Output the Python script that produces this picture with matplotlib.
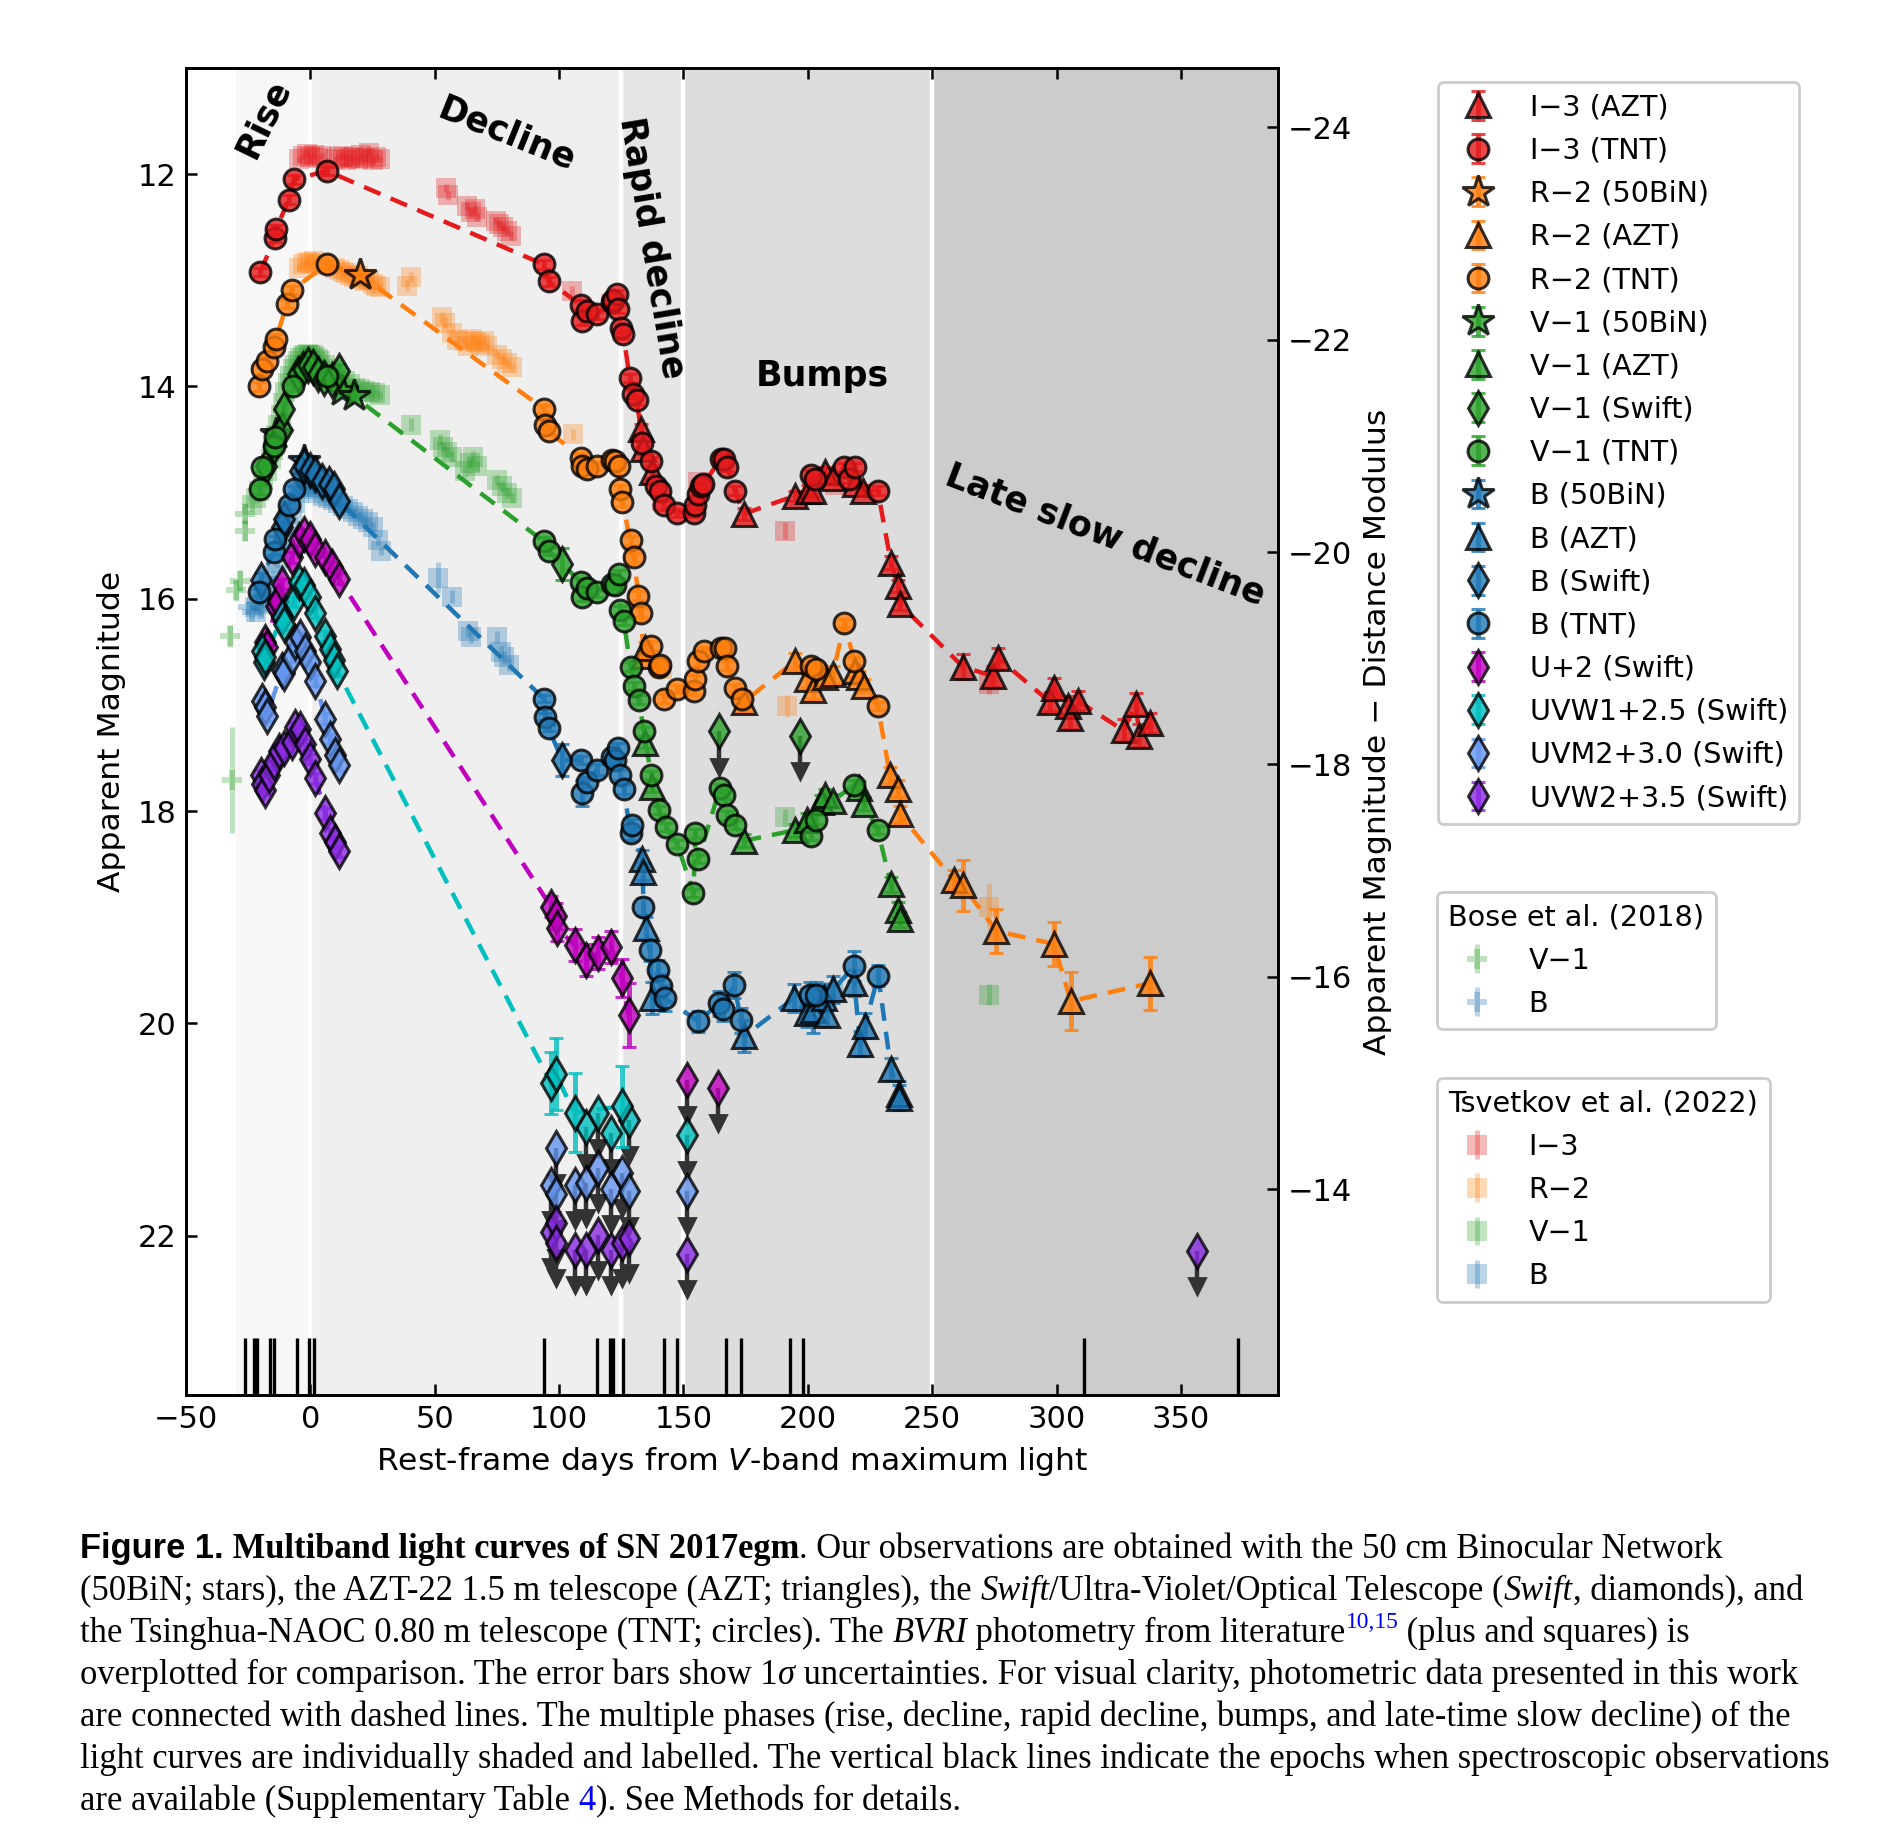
import matplotlib
matplotlib.use('Agg')
import matplotlib.pyplot as plt
from matplotlib.font_manager import FontProperties

# ------------------------------------------------------------------ data
# plotted magnitudes (offsets already applied), rest-frame days
I_TNT_day = [-20.1, -14.3, -13.8, -8.7, -6.7, 6.7, 93.8, 95.8, 108.6, 109.2, 111.2, 115.2, 121.3, 121.7,
             123.2, 123.7, 124.9, 125.8, 128.4, 129.8, 131.2, 133.3, 136.8, 138.9, 140.6, 142.3, 147.2,
             154.2, 154.8, 156.0, 157.2, 158.0, 165.0, 166.4, 167.6, 170.6, 201.3, 203.0, 214.7, 216.4,
             219.0, 228.1]
I_TNT_mag = [12.92, 12.60, 12.52, 12.24, 12.05, 11.97, 12.85, 13.01, 13.23, 13.38, 13.29, 13.32, 13.20, 13.19,
             13.13, 13.27, 13.45, 13.51, 13.92, 14.07, 14.13, 14.53, 14.70, 14.94, 14.98, 15.12, 15.19,
             15.19, 15.12, 15.01, 14.94, 14.92, 14.68, 14.68, 14.76, 14.98, 14.83, 14.87, 14.76, 14.87,
             14.76, 14.98]
I_AZT_day = [132.8, 133.6, 137.5, 174.3, 194.7, 200.0, 202.0, 206.9, 210.0, 219.0, 222.2, 233.4, 236.2, 237.0,
             262.3, 274.6, 276.6, 297.2, 298.8, 304.5, 305.3, 308.4, 326.9, 331.9, 333.2, 337.6]
I_AZT_mag = [14.40, 14.59, 14.81, 15.20, 15.03, 14.98, 14.98, 14.81, 14.86, 14.92, 14.98, 15.66, 15.88, 16.05,
             16.64, 16.73, 16.56, 16.97, 16.84, 17.01, 17.12, 16.96, 17.24, 16.99, 17.29, 17.17]
I_AZT_err = [0.05, 0.05, 0.05, 0.06, 0.05, 0.05, 0.05, 0.05, 0.05, 0.05, 0.05, 0.06, 0.06, 0.06,
             0.12, 0.10, 0.10, 0.09, 0.09, 0.09, 0.11, 0.09, 0.11, 0.10, 0.11, 0.09]

R_TNT_day = [-20.5, -19.4, -17.4, -14.7, -13.8, -9.4, -7.4, 6.7, 93.8, 94.5, 95.8, 108.6, 109.2, 111.2, 115.2,
             121.3, 122.6, 124.0, 124.6, 125.3, 128.7, 130.0, 131.9, 132.9, 136.8, 140.0, 140.6, 142.3,
             147.2, 154.2, 154.8, 156.0, 158.1, 165.0, 166.7, 167.6, 170.6, 173.4, 201.3, 203.2, 214.7,
             218.7, 228.1]
R_TNT_mag = [14.00, 13.84, 13.76, 13.63, 13.55, 13.22, 13.09, 12.85, 14.21, 14.36, 14.42, 14.67, 14.75, 14.78,
             14.75, 14.69, 14.70, 14.75, 14.97, 15.09, 15.45, 15.61, 15.97, 16.13, 16.44, 16.64, 16.62,
             16.94, 16.85, 16.87, 16.76, 16.59, 16.49, 16.46, 16.46, 16.63, 16.84, 16.94, 16.63, 16.66,
             16.23, 16.59, 17.01]
R_AZT_day = [134.0, 134.5, 174.3, 194.7, 199.6, 202.0, 206.9, 210.0, 219.1, 220.6, 222.6, 233.0, 236.2, 237.0,
             258.7, 262.3, 275.8, 298.8, 305.7, 337.7]
R_AZT_mag = [16.54, 16.46, 16.97, 16.59, 16.76, 16.86, 16.74, 16.71, 16.68, 16.74, 16.82, 17.66, 17.79, 18.03,
             18.65, 18.70, 19.13, 19.25, 19.79, 19.62]
R_AZT_err = [0.05, 0.05, 0.10, 0.08, 0.08, 0.08, 0.08, 0.08, 0.06, 0.06, 0.06, 0.08, 0.08, 0.08,
             0.10, 0.24, 0.21, 0.21, 0.27, 0.25]
R_50_day = [20.1]
R_50_mag = [12.95]

V_TNT_day = [-20.1, -19.4, -14.8, -14.2, -7.1, 6.7, 93.8, 95.8, 108.6, 109.2, 111.2, 115.2, 121.3, 122.6,
             124.0, 124.6, 126.0, 128.7, 130.0, 132.0, 134.1, 137.1, 140.2, 142.8, 147.5, 154.0, 154.8,
             156.0, 164.7, 166.4, 167.6, 170.6, 201.3, 203.2, 218.7, 228.1]
V_TNT_mag = [14.97, 14.76, 14.56, 14.48, 14.00, 13.90, 15.46, 15.55, 15.84, 15.98, 15.90, 15.94, 15.86, 15.87,
             15.77, 16.11, 16.21, 16.64, 16.82, 16.95, 17.25, 17.66, 17.99, 18.15, 18.31, 18.77, 18.21,
             18.45, 17.78, 17.85, 18.04, 18.13, 18.23, 18.08, 17.75, 18.18]
V_AZT_day = [134.7, 137.4, 174.3, 194.7, 199.6, 205.1, 206.9, 210.3, 220.5, 222.6, 233.4, 236.2, 237.0]
V_AZT_mag = [17.36, 17.77, 18.28, 18.18, 18.08, 17.91, 17.85, 17.90, 17.78, 17.93, 18.69, 18.93, 19.02]
V_AZT_err = [0.05, 0.05, 0.06, 0.06, 0.06, 0.06, 0.06, 0.06, 0.06, 0.06, 0.07, 0.07, 0.07]
V_SW_day = [-18.0, -14.5, -11.5, -10.5, -5.0, -3.0, -1.0, 1.0, 3.0, 5.5, 8.5, 11.4, 101.2]
V_SW_mag = [14.75, 14.56, 14.41, 14.21, 13.88, 13.84, 13.80, 13.82, 13.88, 13.92, 13.94, 13.85, 15.67]
V_SW_err = [0.06, 0.06, 0.06, 0.06, 0.05, 0.05, 0.05, 0.05, 0.05, 0.05, 0.05, 0.06, 0.15]
V_SW_lim_day = [164.2, 197.0]
V_SW_lim_mag = [17.25, 17.29]
V_50_day = [-14.0, 12.7, 17.4]
V_50_mag = [14.45, 14.04, 14.09]

B_TNT_day = [-20.5, -14.8, -14.2, -8.7, -6.7, 93.8, 94.5, 95.8, 108.6, 109.2, 111.2, 115.2, 121.3, 122.6,
             123.7, 124.6, 126.0, 128.7, 129.4, 133.9, 136.4, 139.8, 140.8, 142.4, 155.9, 164.4, 165.8,
             170.2, 173.3, 201.0, 203.1, 218.7, 228.3]
B_TNT_mag = [15.94, 15.56, 15.44, 15.12, 14.97, 16.94, 17.11, 17.22, 17.52, 17.83, 17.73, 17.61, 17.49, 17.52,
             17.41, 17.66, 17.79, 18.21, 18.13, 18.90, 19.31, 19.50, 19.65, 19.76, 19.98, 19.81, 19.86,
             19.64, 19.97, 19.73, 19.73, 19.46, 19.55]
B_TNT_err = [0.03, 0.03, 0.03, 0.03, 0.03, 0.03, 0.03, 0.03, 0.04, 0.12, 0.05, 0.05, 0.05, 0.05,
             0.05, 0.05, 0.05, 0.06, 0.06, 0.08, 0.10, 0.10, 0.12, 0.12, 0.10, 0.12, 0.12,
             0.12, 0.12, 0.12, 0.12, 0.14, 0.10]
B_AZT_day = [133.3, 133.6, 134.9, 137.5, 174.4, 194.6, 199.5, 202.0, 206.4, 207.6, 210.3, 218.7, 221.0, 222.9,
             233.4, 236.6, 236.8]
B_AZT_mag = [18.45, 18.57, 19.10, 19.76, 20.12, 19.76, 19.90, 19.87, 19.76, 19.92, 19.68, 19.62, 20.19, 20.02,
             20.43, 20.66, 20.70]
B_AZT_err = [0.08, 0.08, 0.10, 0.15, 0.15, 0.13, 0.13, 0.22, 0.13, 0.10, 0.13, 0.12, 0.12, 0.12,
             0.10, 0.12, 0.12]
B_SW_day = [-20.0, -11.5, -10.5, -4.0, -2.7, 0.0, 2.0, 4.7, 7.4, 9.4, 11.4, 101.2]
B_SW_mag = [15.82, 15.32, 15.25, 14.80, 14.75, 14.79, 14.82, 14.89, 14.92, 14.97, 15.08, 17.52]
B_SW_err = [0.06, 0.05, 0.05, 0.05, 0.05, 0.05, 0.05, 0.05, 0.05, 0.05, 0.05, 0.15]
B_50_day = [-2.7]
B_50_mag = [14.70]

U_day = [-18.1, -17.5, -13.9, -13.2, -11.4, -7.4, -4.7, -2.7, 0.0, 2.0, 6.0, 8.7, 11.4,
         96.7, 98.6, 99.0, 106.2, 111.0, 115.6, 120.9, 125.2, 127.9]
U_mag = [16.41, 16.45, 16.07, 16.02, 15.86, 15.61, 15.45, 15.39, 15.44, 15.53, 15.61, 15.70, 15.81,
         18.90, 18.99, 19.10, 19.26, 19.40, 19.34, 19.28, 19.57, 19.92]
U_err = [0.05, 0.05, 0.05, 0.05, 0.05, 0.05, 0.05, 0.05, 0.05, 0.05, 0.05, 0.05, 0.05,
         0.10, 0.12, 0.12, 0.15, 0.15, 0.15, 0.15, 0.18, 0.30]
U_lim_day = [151.6, 163.9]
U_lim_mag = [20.53, 20.61]

W1_day = [-19.4, -18.5, -18.1, -11.4, -10.5, -6.7, -4.7, -2.7, 0.0, 2.0, 6.0, 8.0, 9.5, 10.8,
          96.7, 98.6, 106.2, 125.2]
W1_mag = [16.49, 16.60, 16.55, 16.17, 16.24, 16.03, 15.84, 15.87, 15.98, 16.13, 16.35, 16.47, 16.58, 16.68,
          20.56, 20.48, 20.84, 20.78]
W1_err = [0.05, 0.05, 0.05, 0.05, 0.05, 0.05, 0.05, 0.05, 0.05, 0.05, 0.05, 0.05, 0.05, 0.05,
          0.29, 0.34, 0.37, 0.38]
W1_lim_day = [111.0, 115.6, 120.9, 127.9, 151.6]
W1_lim_mag = [20.98, 20.84, 21.03, 20.91, 21.05]

M2_day = [-19.4, -18.1, -17.4, -11.4, -10.5, -7.4, -6.1, -4.0, -2.0, 0.0, 2.0, 6.0, 8.0, 10.0, 11.4]
M2_mag = [16.96, 17.02, 17.10, 16.67, 16.70, 16.55, 16.41, 16.36, 16.49, 16.60, 16.77, 17.13, 17.32, 17.47, 17.57]
M2_lim_day = [96.7, 98.6, 98.6, 106.2, 111.0, 115.6, 120.9, 125.2, 127.9, 151.6]
M2_lim_mag = [21.52, 21.17, 21.61, 21.52, 21.50, 21.36, 21.56, 21.41, 21.58, 21.58]

W2_day = [-20.0, -19.4, -18.1, -16.7, -14.8, -12.8, -10.8, -7.4, -6.1, -4.0, -2.0, 0.0, 2.0, 6.0, 8.0, 10.0, 11.4]
W2_mag = [17.66, 17.74, 17.80, 17.66, 17.54, 17.43, 17.41, 17.35, 17.21, 17.23, 17.37, 17.51, 17.69, 18.02,
          18.21, 18.29, 18.38]
W2_lim_day = [96.7, 98.6, 98.6, 106.2, 111.0, 115.6, 120.9, 125.2, 127.9, 151.6, 356.5]
W2_lim_mag = [21.96, 21.88, 22.07, 22.13, 22.13, 21.99, 22.13, 22.07, 22.02, 22.17, 22.14]

# literature: Bose et al. (2018)
BoseV_day = [-32.2, -31.5, -30.1, -28.1, -26.1, -26.1]
BoseV_mag = [16.35, 17.71, 15.92, 15.83, 15.36, 15.20]
BoseV_err = [0.10, 0.50, 0.10, 0.10, 0.10, 0.10]
BoseB_day = [-25.0, -23.5, -21.5, -20.0]
BoseB_mag = [16.08, 16.12, 16.02, 16.10]
BoseB_err = [0.06, 0.06, 0.06, 0.06]

# literature: Tsvetkov et al. (2022)
TsvI_day = [-4.5, -3.0, -1.5, 0.0, 1.5, 3.0, 4.5, 10.0, 11.5, 13.0, 14.5, 16.0, 17.5, 19.0, 20.5, 22.0,
            23.5, 25.0, 26.5, 28.0, 54.5, 55.5, 63.0, 64.5, 66.0, 67.0, 74.5, 76.0, 77.5, 79.0, 80.5,
            105.0, 121.0, 141.5, 156.0, 191.0, 211.0, 273.0]
TsvI_mag = [11.86, 11.83, 11.81, 11.84, 11.82, 11.85, 11.83, 11.86, 11.84, 11.83, 11.87, 11.85, 11.84, 11.86,
            11.82, 11.85, 11.80, 11.87, 11.84, 11.86, 12.13, 12.20, 12.30, 12.36, 12.33, 12.40, 12.44,
            12.47, 12.50, 12.54, 12.58, 13.10, 13.22, 15.08, 14.90, 15.36, 14.93, 16.80]
TsvI_err = [0.03, 0.03, 0.03, 0.03, 0.03, 0.03, 0.03, 0.03, 0.03, 0.03, 0.06, 0.03, 0.03, 0.03, 0.03, 0.03,
            0.05, 0.03, 0.03, 0.03, 0.04, 0.04, 0.04, 0.04, 0.04, 0.04, 0.04, 0.04, 0.04, 0.04, 0.04,
            0.05, 0.05, 0.05, 0.05, 0.08, 0.05, 0.10]
TsvR_day = [-4.5, -3.0, -1.5, 0.0, 1.5, 3.0, 4.5, 10.0, 11.5, 13.0, 14.5, 16.0, 17.5, 19.0, 20.5, 22.0,
            23.5, 25.0, 26.5, 28.0, 39.0, 40.5, 53.0, 54.0, 57.0, 59.0, 62.0, 63.5, 65.0, 66.5, 68.0,
            70.0, 71.0, 75.0, 77.0, 79.0, 81.0, 105.5, 141.5, 191.5, 273.0]
TsvR_mag = [12.88, 12.85, 12.83, 12.84, 12.82, 12.85, 12.86, 12.88, 12.90, 12.92, 12.93, 12.95, 12.97, 12.96,
            12.99, 13.01, 13.00, 13.03, 13.05, 13.06, 13.05, 12.97, 13.35, 13.40, 13.50, 13.56, 13.57,
            13.62, 13.55, 13.58, 13.60, 13.57, 13.62, 13.70, 13.74, 13.78, 13.82, 14.45, 16.66, 17.01, 18.90]
TsvR_err = [0.03, 0.03, 0.03, 0.03, 0.03, 0.03, 0.03, 0.03, 0.03, 0.03, 0.03, 0.03, 0.03, 0.03, 0.03, 0.03,
            0.03, 0.03, 0.03, 0.03, 0.05, 0.05, 0.05, 0.05, 0.04, 0.04, 0.04, 0.04, 0.04, 0.04, 0.04,
            0.04, 0.04, 0.04, 0.04, 0.04, 0.04, 0.05, 0.05, 0.10, 0.22]
TsvV_day = [-23.5, -22.0, -20.5, -19.0, -17.5, -16.0, -15.0, -14.0, -13.0, -12.0, -11.0, -10.0, -9.0, -8.0,
            -7.0, -6.0, -5.0, -4.0, -3.0, -2.0, -1.0, 0.0, 1.0, 2.0, 3.0, 4.0, 6.0, 8.0, 10.0, 12.0, 14.0,
            16.0, 18.0, 20.0, 22.0, 24.0, 26.0, 28.0, 40.5, 52.0, 53.5, 55.0, 57.0, 62.0, 64.0, 65.5, 67.0,
            75.0, 77.0, 79.0, 81.0, 191.0, 273.0]
TsvV_mag = [15.12, 15.05, 14.98, 14.88, 14.80, 14.68, 14.60, 14.46, 14.36, 14.27, 14.16, 14.05, 13.97, 13.90,
            13.84, 13.80, 13.76, 13.73, 13.71, 13.70, 13.69, 13.70, 13.70, 13.72, 13.74, 13.76, 13.80,
            13.84, 13.88, 13.92, 13.95, 13.98, 14.01, 14.02, 14.04, 14.05, 14.06, 14.08, 14.36, 14.50,
            14.57, 14.62, 14.66, 14.80, 14.72, 14.66, 14.75, 14.88, 14.94, 15.00, 15.05, 18.06, 19.73]
TsvV_err = [0.05, 0.05, 0.04, 0.04, 0.04, 0.04, 0.04, 0.04, 0.04, 0.04, 0.04, 0.04, 0.04, 0.04,
            0.04, 0.04, 0.04, 0.04, 0.04, 0.04, 0.04, 0.04, 0.04, 0.04, 0.04, 0.04, 0.04, 0.04, 0.04,
            0.04, 0.04, 0.04, 0.04, 0.04, 0.04, 0.04, 0.04, 0.04, 0.06, 0.05, 0.05, 0.05, 0.05, 0.05,
            0.05, 0.05, 0.05, 0.05, 0.05, 0.05, 0.05, 0.08, 0.10]
TsvB_day = [-22.0, -20.0, -18.0, -16.5, -15.0, -13.5, -12.0, -10.5, -9.0, -7.5, -6.0, -4.5, -3.0, -1.5, 0.0,
            1.5, 3.0, 5.0, 7.0, 9.0, 11.0, 13.0, 15.0, 17.0, 19.0, 21.0, 23.0, 25.0, 27.0, 28.5, 51.5,
            57.0, 63.5, 64.5, 75.0, 76.5, 78.0, 80.0, 201.0, 206.0, 210.0]
TsvB_mag = [16.12, 16.05, 15.97, 15.88, 15.78, 15.66, 15.56, 15.44, 15.32, 15.20, 15.10, 15.00, 14.95, 14.93,
            14.95, 14.97, 15.00, 15.03, 15.05, 15.07, 15.10, 15.13, 15.15, 15.18, 15.22, 15.25, 15.28,
            15.32, 15.45, 15.55, 15.80, 15.98, 16.30, 16.36, 16.36, 16.50, 16.55, 16.62, 19.75, 19.72, 19.70]
TsvB_err = [0.04, 0.04, 0.04, 0.04, 0.04, 0.04, 0.04, 0.04, 0.04, 0.04, 0.04, 0.04, 0.04, 0.04, 0.04,
            0.04, 0.04, 0.04, 0.04, 0.04, 0.04, 0.04, 0.04, 0.04, 0.04, 0.04, 0.04, 0.04, 0.04, 0.04, 0.15,
            0.06, 0.06, 0.06, 0.06, 0.06, 0.06, 0.06, 0.08, 0.08, 0.08]

# epochs of spectroscopy
spec_days = [-26.4, -22.6, -21.3, -16.4, -14.6, -5.2, -0.6, 1.6, 93.9, 115.2, 120.5, 121.8, 125.6,
             142.1, 147.2, 167.2, 173.1, 192.9, 197.9, 311.2, 372.9]

# phases
phase_edges = [-30, 0, 125, 150, 250, 390]
phase_names = ['Rise', 'Decline', 'Rapid decline', 'Bumps', 'Late slow decline']

DIST_MOD = 35.56

# ------------------------------------------------------------------ style
W, H, DPI = 1882, 1832, 200
cI, cR, cV, cB = '#e41a1c', '#ff7f0e', '#2ca02c', '#1f77b4'
cU, cW1, cM2, cW2 = 'm', 'c', 'cornflowerblue', 'blueviolet'
TNT_ERR = 0.04
MINUS = '\u2212'

plt.rcParams['font.family'] = ['DejaVu Sans']
fig = plt.figure(figsize=(W / DPI, H / DPI), dpi=DPI)
ax = fig.add_axes([186 / W, 1 - 1395 / H, (1278 - 186) / W, (1395 - 68) / H])

span_cols = ['#f7f7f7', '#efefef', '#e5e5e5', '#dddddd', '#cccccc']
for i in range(5):
    ax.axvspan(phase_edges[i], phase_edges[i + 1], color=span_cols[i], lw=0, zorder=0)
for e in phase_edges[1:-1]:
    ax.axvline(e, color='white', lw=1.6, zorder=0.5)

# literature
def lit(day, mag, err, col, mk, lab):
    return ax.errorbar(day, mag, yerr=err, fmt=mk, color=col, alpha=0.3, ms=7, mew=0,
                       elinewidth=1.8, capsize=2.5, capthick=1.8, zorder=2, label=lab)

hTI = lit(TsvI_day, TsvI_mag, TsvI_err, cI, 's', 'I' + MINUS + '3')
hTR = lit(TsvR_day, TsvR_mag, TsvR_err, cR, 's', 'R' + MINUS + '2')
hTV = lit(TsvV_day, TsvV_mag, TsvV_err, cV, 's', 'V' + MINUS + '1')
hTB = lit(TsvB_day, TsvB_mag, TsvB_err, cB, 's', 'B')
hBV = lit(BoseV_day, BoseV_mag, BoseV_err, cV, 'P', 'V' + MINUS + '1')
hBB = lit(BoseB_day, BoseB_mag, BoseB_err, cB, 'P', 'B')

# dashed connecting lines
def connect(col, *series):
    pts = []
    for d, m in series:
        pts += list(zip(d, m))
    pts.sort()
    ax.plot([p[0] for p in pts], [p[1] for p in pts], ls=(0, (4, 2.5)), color=col, lw=1.6, zorder=3)

connect(cI, (I_TNT_day, I_TNT_mag), (I_AZT_day, I_AZT_mag))
connect(cR, (R_TNT_day, R_TNT_mag), (R_AZT_day, R_AZT_mag), (R_50_day, R_50_mag))
connect(cV, (V_TNT_day, V_TNT_mag), (V_AZT_day, V_AZT_mag), (V_SW_day, V_SW_mag), (V_50_day, V_50_mag))
connect(cB, (B_TNT_day, B_TNT_mag), (B_AZT_day, B_AZT_mag), (B_SW_day, B_SW_mag), (B_50_day, B_50_mag))
connect(cU, (U_day, U_mag))
connect(cW1, (W1_day, W1_mag))
connect(cM2, (M2_day, M2_mag))
connect(cW2, (W2_day, W2_mag))

MS = {'o': 7.5, '^': 8.5, 'd': 8.5, '*': 12}

def ours(day, mag, err, col, mk, lab):
    return ax.errorbar(day, mag, yerr=err, fmt=mk, color=col, mfc=col, mec='k', ms=MS[mk], mew=1.1,
                       alpha=0.8, ecolor=col, elinewidth=1.8, capsize=2.5, capthick=1.8, zorder=5, label=lab)

def limits(day, mag, col):
    ax.vlines(day, mag, [m + 0.33 for m in mag], color='#333333', lw=1.6, zorder=4)
    ax.plot(day, [m + 0.33 for m in mag], ls='none', marker='v', ms=5.5, color='#333333', zorder=4)
    ax.plot(day, mag, ls='none', marker='d', ms=MS['d'], mfc=col, mec='k', mew=1.1, alpha=0.8, zorder=5)

h = []
h.append(ours(I_AZT_day, I_AZT_mag, I_AZT_err, cI, '^', 'I' + MINUS + '3 (AZT)'))
h.append(ours(I_TNT_day, I_TNT_mag, TNT_ERR, cI, 'o', 'I' + MINUS + '3 (TNT)'))
h.append(ours(R_50_day, R_50_mag, 0.03, cR, '*', 'R' + MINUS + '2 (50BiN)'))
h.append(ours(R_AZT_day, R_AZT_mag, R_AZT_err, cR, '^', 'R' + MINUS + '2 (AZT)'))
h.append(ours(R_TNT_day, R_TNT_mag, TNT_ERR, cR, 'o', 'R' + MINUS + '2 (TNT)'))
h.append(ours(V_50_day, V_50_mag, 0.03, cV, '*', 'V' + MINUS + '1 (50BiN)'))
h.append(ours(V_AZT_day, V_AZT_mag, V_AZT_err, cV, '^', 'V' + MINUS + '1 (AZT)'))
h.append(ours(V_SW_day, V_SW_mag, V_SW_err, cV, 'd', 'V' + MINUS + '1 (Swift)'))
h.append(ours(V_TNT_day, V_TNT_mag, TNT_ERR, cV, 'o', 'V' + MINUS + '1 (TNT)'))
h.append(ours(B_50_day, B_50_mag, 0.03, cB, '*', 'B (50BiN)'))
h.append(ours(B_AZT_day, B_AZT_mag, B_AZT_err, cB, '^', 'B (AZT)'))
h.append(ours(B_SW_day, B_SW_mag, B_SW_err, cB, 'd', 'B (Swift)'))
h.append(ours(B_TNT_day, B_TNT_mag, B_TNT_err, cB, 'o', 'B (TNT)'))
h.append(ours(U_day, U_mag, U_err, cU, 'd', 'U+2 (Swift)'))
h.append(ours(W1_day, W1_mag, W1_err, cW1, 'd', 'UVW1+2.5 (Swift)'))
h.append(ours(M2_day, M2_mag, 0.05, cM2, 'd', 'UVM2+3.0 (Swift)'))
h.append(ours(W2_day, W2_mag, 0.05, cW2, 'd', 'UVW2+3.5 (Swift)'))

limits(V_SW_lim_day, V_SW_lim_mag, cV)
limits(U_lim_day, U_lim_mag, cU)
limits(W1_lim_day, W1_lim_mag, cW1)
limits(M2_lim_day, M2_lim_mag, cM2)
limits(W2_lim_day, W2_lim_mag, cW2)

# spectroscopic epochs
ax.vlines(spec_days, 23.5, 22.96, color='k', lw=1.2, zorder=6)

# phase labels
tk = dict(fontsize=12.5, fontweight='bold', ha='center', va='center', zorder=7)
ax.text(-18.8, 11.47, phase_names[0], rotation=64, **tk)
ax.text(79, 11.63, phase_names[1], rotation=-22, **tk)
ax.text(137.1, 12.69, phase_names[2], rotation=-80.5, **tk)
ax.text(206, 13.9, phase_names[3], rotation=0, **tk)
ax.text(319.5, 15.40, phase_names[4], rotation=-21, **tk)

# axes
ax.set_xlim(-50, 389)
ax.set_ylim(23.5, 11.0)
ax.set_xticks(range(-50, 351, 50))
ax.set_yticks(range(12, 23, 2))
ax.tick_params(direction='in', top=True, right=False, labelsize=11, length=4, width=0.9)
ax.set_xlabel('Rest-frame days from $V$-band maximum light', fontsize=11.3)
ax.set_ylabel('Apparent Magnitude', fontsize=11.3)
ax2 = ax.twinx()
ax2.set_ylim(23.5 - DIST_MOD, 11.0 - DIST_MOD)
ax2.set_yticks(range(-24, -13, 2))
ax2.tick_params(direction='in', labelsize=11, length=4, width=0.9)
ax2.set_ylabel('Apparent Magnitude ' + MINUS + ' Distance Modulus', fontsize=11.3)
for a in (ax, ax2):
    for s in a.spines.values():
        s.set_linewidth(1.0)

# legends
legkw = dict(loc='upper left', fontsize=10.3, title_fontsize=10.3, borderaxespad=0, labelspacing=0.53,
             frameon=True, fancybox=True, edgecolor='#cccccc', framealpha=1, alignment='left')
fig.legend(h, [x.get_label() for x in h], bbox_to_anchor=(1438 / W, 1 - 82 / H), **legkw)
fig.legend([hBV, hBB], ['V' + MINUS + '1', 'B'], title='Bose et al. (2018)',
           bbox_to_anchor=(1437 / W, 1 - 892 / H), **legkw)
fig.legend([hTI, hTR, hTV, hTB], ['I' + MINUS + '3', 'R' + MINUS + '2', 'V' + MINUS + '1', 'B'],
           title='Tsvetkov et al. (2022)', bbox_to_anchor=(1437 / W, 1 - 1078 / H), **legkw)

# ------------------------------------------------------------------ caption
renderer = fig.canvas.get_renderer()
SERIF = ['Liberation Serif', 'DejaVu Serif']

def fprop(style, size):
    if style == 'sansbold':
        return FontProperties(family=['Liberation Sans', 'DejaVu Sans'], weight='bold', size=size)
    if style == 'bold':
        return FontProperties(family=SERIF, weight='bold', size=size)
    if style == 'it':
        return FontProperties(family=SERIF, style='italic', size=size)
    if style == 'sup':
        return FontProperties(family=SERIF, size=size * 0.68)
    return FontProperties(family=SERIF, size=size)

def adv(s, fp):
    w1 = renderer.get_text_width_height_descent('|' + s + '|', fp, ismath=False)[0]
    w0 = renderer.get_text_width_height_descent('||', fp, ismath=False)[0]
    return w1 - w0

caption = [
    [('Figure 1.', 'sansbold'), (' Multiband light curves of SN 2017egm', 'bold'),
     ('. Our observations are obtained with the 50 cm Binocular Network', 'reg')],
    [('(50BiN; stars), the AZT-22 1.5 m telescope (AZT; triangles), the ', 'reg'), ('Swift', 'it'),
     ('/Ultra-Violet/Optical Telescope (', 'reg'), ('Swift', 'it'), (', diamonds), and', 'reg')],
    [('the Tsinghua-NAOC 0.80 m telescope (TNT; circles). The ', 'reg'), ('BVRI', 'it'),
     (' photometry from literature', 'reg'), ('10,15', 'sup'), (' (plus and squares) is', 'reg')],
    [('overplotted for comparison. The error bars show 1', 'reg'), ('\u03c3', 'it'),
     (' uncertainties. For visual clarity, photometric data presented in this work', 'reg')],
    [('are connected with dashed lines. The multiple phases (rise, decline, rapid decline, bumps, '
      'and late-time slow decline) of the', 'reg')],
    [('light curves are individually shaded and labelled. The vertical black lines indicate the '
      'epochs when spectroscopic observations', 'reg')],
    [('are available (Supplementary Table ', 'reg'), ('4', 'blue'), ('). See Methods for details.', 'reg')],
]

ref = 12.0
w_ref = sum(adv(s, fprop(st, ref)) for s, st in caption[5])
FS = ref * (1827 - 80) / w_ref

x0, y0, dy = 80, 1558, 42
for k, line in enumerate(caption):
    x = x0
    yb = y0 + k * dy
    for s, st in line:
        fp = fprop(st, FS)
        col = 'blue' if st in ('sup', 'blue') else 'black'
        raise_px = 0.40 * FS * DPI / 72 if st == 'sup' else 0
        fig.text(x / W, 1 - (yb - raise_px) / H, s, fontproperties=fp, color=col,
                 ha='left', va='baseline')
        x += adv(s, fp)

fig.savefig('out.png', dpi=DPI)
